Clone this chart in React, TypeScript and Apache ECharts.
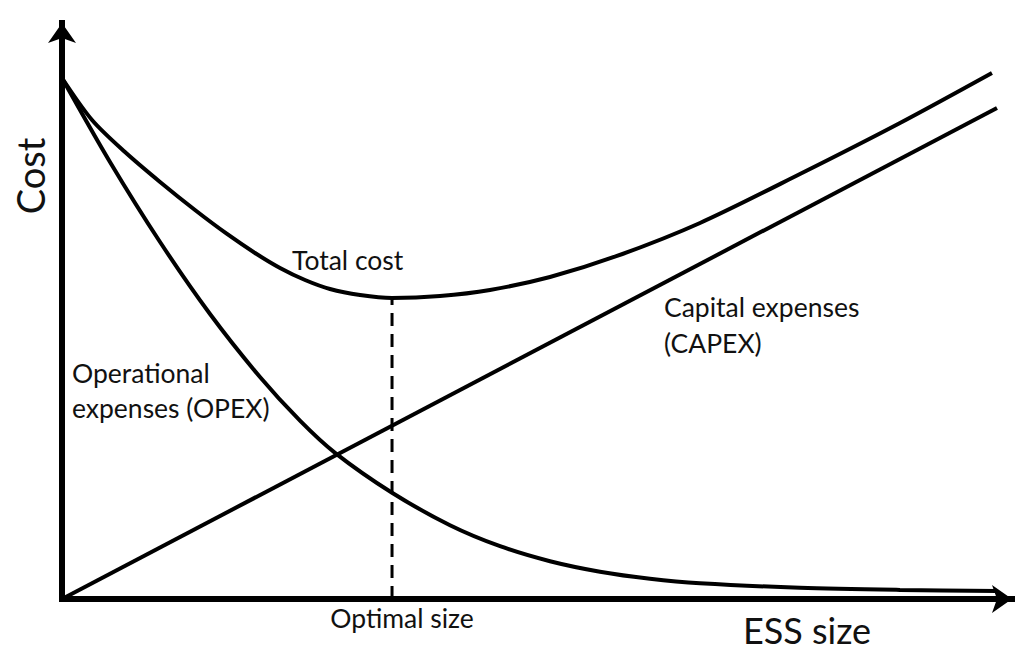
import React, { useEffect, useRef } from "react";
import * as echarts from "echarts";

// ESS size (x, arbitrary units 0-100) and cost (y, arbitrary units 0-100)
const opexX = [0, 5.05, 10.32, 15.58, 20.84, 25.05, 28.74, 34.74, 40.84, 46.11, 51.37, 56.63, 61.89, 67.16, 77.68, 88.21, 98.42];
const opexY = [90.45, 75.87, 61.98, 49.48, 38.54, 30.97, 25.38, 18.45, 12.81, 9.17, 6.56, 4.74, 3.52, 2.74, 1.96, 1.58, 1.37];

const totalX = [0, 3.16, 6.63, 10.32, 14.0, 17.37, 20.32, 22.95, 25.58, 28.21, 31.37, 34.74, 39.79, 45.05, 51.37, 58.42, 67.16, 77.68, 88.21, 97.89];
const totalY = [90.45, 83.16, 77.6, 72.4, 67.53, 63.37, 60.07, 57.47, 55.38, 53.82, 52.78, 52.26, 52.6, 53.65, 55.9, 59.55, 65.28, 73.78, 82.64, 91.32];

const capexX = [0, 98.42];
const capexY = [0, 85.24];

const optimalX = 34.74;
const optimalY = 52.26;

const FONT = "Lato, 'Noto Sans', sans-serif";

function pairs(xs: number[], ys: number[]) {
  return xs.map((x, i) => [x, ys[i]]);
}

export default function App() {
  const ref = useRef<HTMLDivElement>(null);
  useEffect(() => {
    if (!ref.current) return;
    const chart = echarts.init(ref.current, null, { renderer: "svg" });
    const axisCommon = {
      type: "value" as const,
      min: 0,
      max: 100,
      axisLine: {
        show: true,
        onZero: false,
        symbol: ["none", "arrow"],
        symbolSize: [21, 20],
        lineStyle: { color: "#000", width: 6, cap: "square" },
      },
      axisTick: { show: false },
      axisLabel: { show: false },
      splitLine: { show: false },
    };
    const curveStyle = { color: "#000", width: 4, cap: "butt" };
    const label = (text: string, x: number, y: number, size: number, align = "left") => ({
      type: "text",
      x,
      y,
      style: { text, font: `${size}px ${FONT}`, fill: "#111", align, verticalAlign: "middle", lineHeight: size * 0.8 },
    });
    chart.setOption({
      animation: false,
      backgroundColor: "#fff",
      grid: { left: 62, top: 23, width: 950, height: 576 },
      xAxis: axisCommon,
      yAxis: axisCommon,
      series: [
        {
          name: "Total cost",
          type: "line",
          data: pairs(totalX, totalY),
          smooth: 0.3,
          showSymbol: false,
          lineStyle: curveStyle,
          z: 3,
        },
        {
          name: "OPEX",
          type: "line",
          data: pairs(opexX, opexY),
          smooth: 0.3,
          showSymbol: false,
          lineStyle: curveStyle,
          z: 3,
        },
        {
          name: "CAPEX",
          type: "line",
          data: pairs(capexX, capexY),
          showSymbol: false,
          lineStyle: curveStyle,
          z: 3,
        },
        {
          name: "Optimal size",
          type: "line",
          data: [
            [optimalX, 0],
            [optimalX, optimalY],
          ],
          showSymbol: false,
          lineStyle: { color: "#000", width: 3, type: [13, 8] },
          z: 2,
        },
      ],
      graphic: [
        {
          type: "text",
          x: 30,
          y: 176,
          rotation: Math.PI / 2,
          style: { text: "Cost", font: `38px ${FONT}`, fill: "#111", align: "center", verticalAlign: "middle" },
        },
        label("ESS size", 807, 630, 36, "center"),
        label("Optimal size", 402, 618, 26.5, "center"),
        label("Total cost", 292, 260, 26.5),
        label("Operational", 72, 373, 26.5),
        label("expenses (OPEX)", 72, 408, 26.5),
        label("Capital expenses", 664, 307, 26.5),
        label("(CAPEX)", 664, 343, 26.5),
      ],
    });
    return () => chart.dispose();
  }, []);
  return (
    <div
      ref={ref}
      style={{ position: "absolute", left: 0, top: 0, width: 1015, height: 652, background: "#fff" }}
    />
  );
}
